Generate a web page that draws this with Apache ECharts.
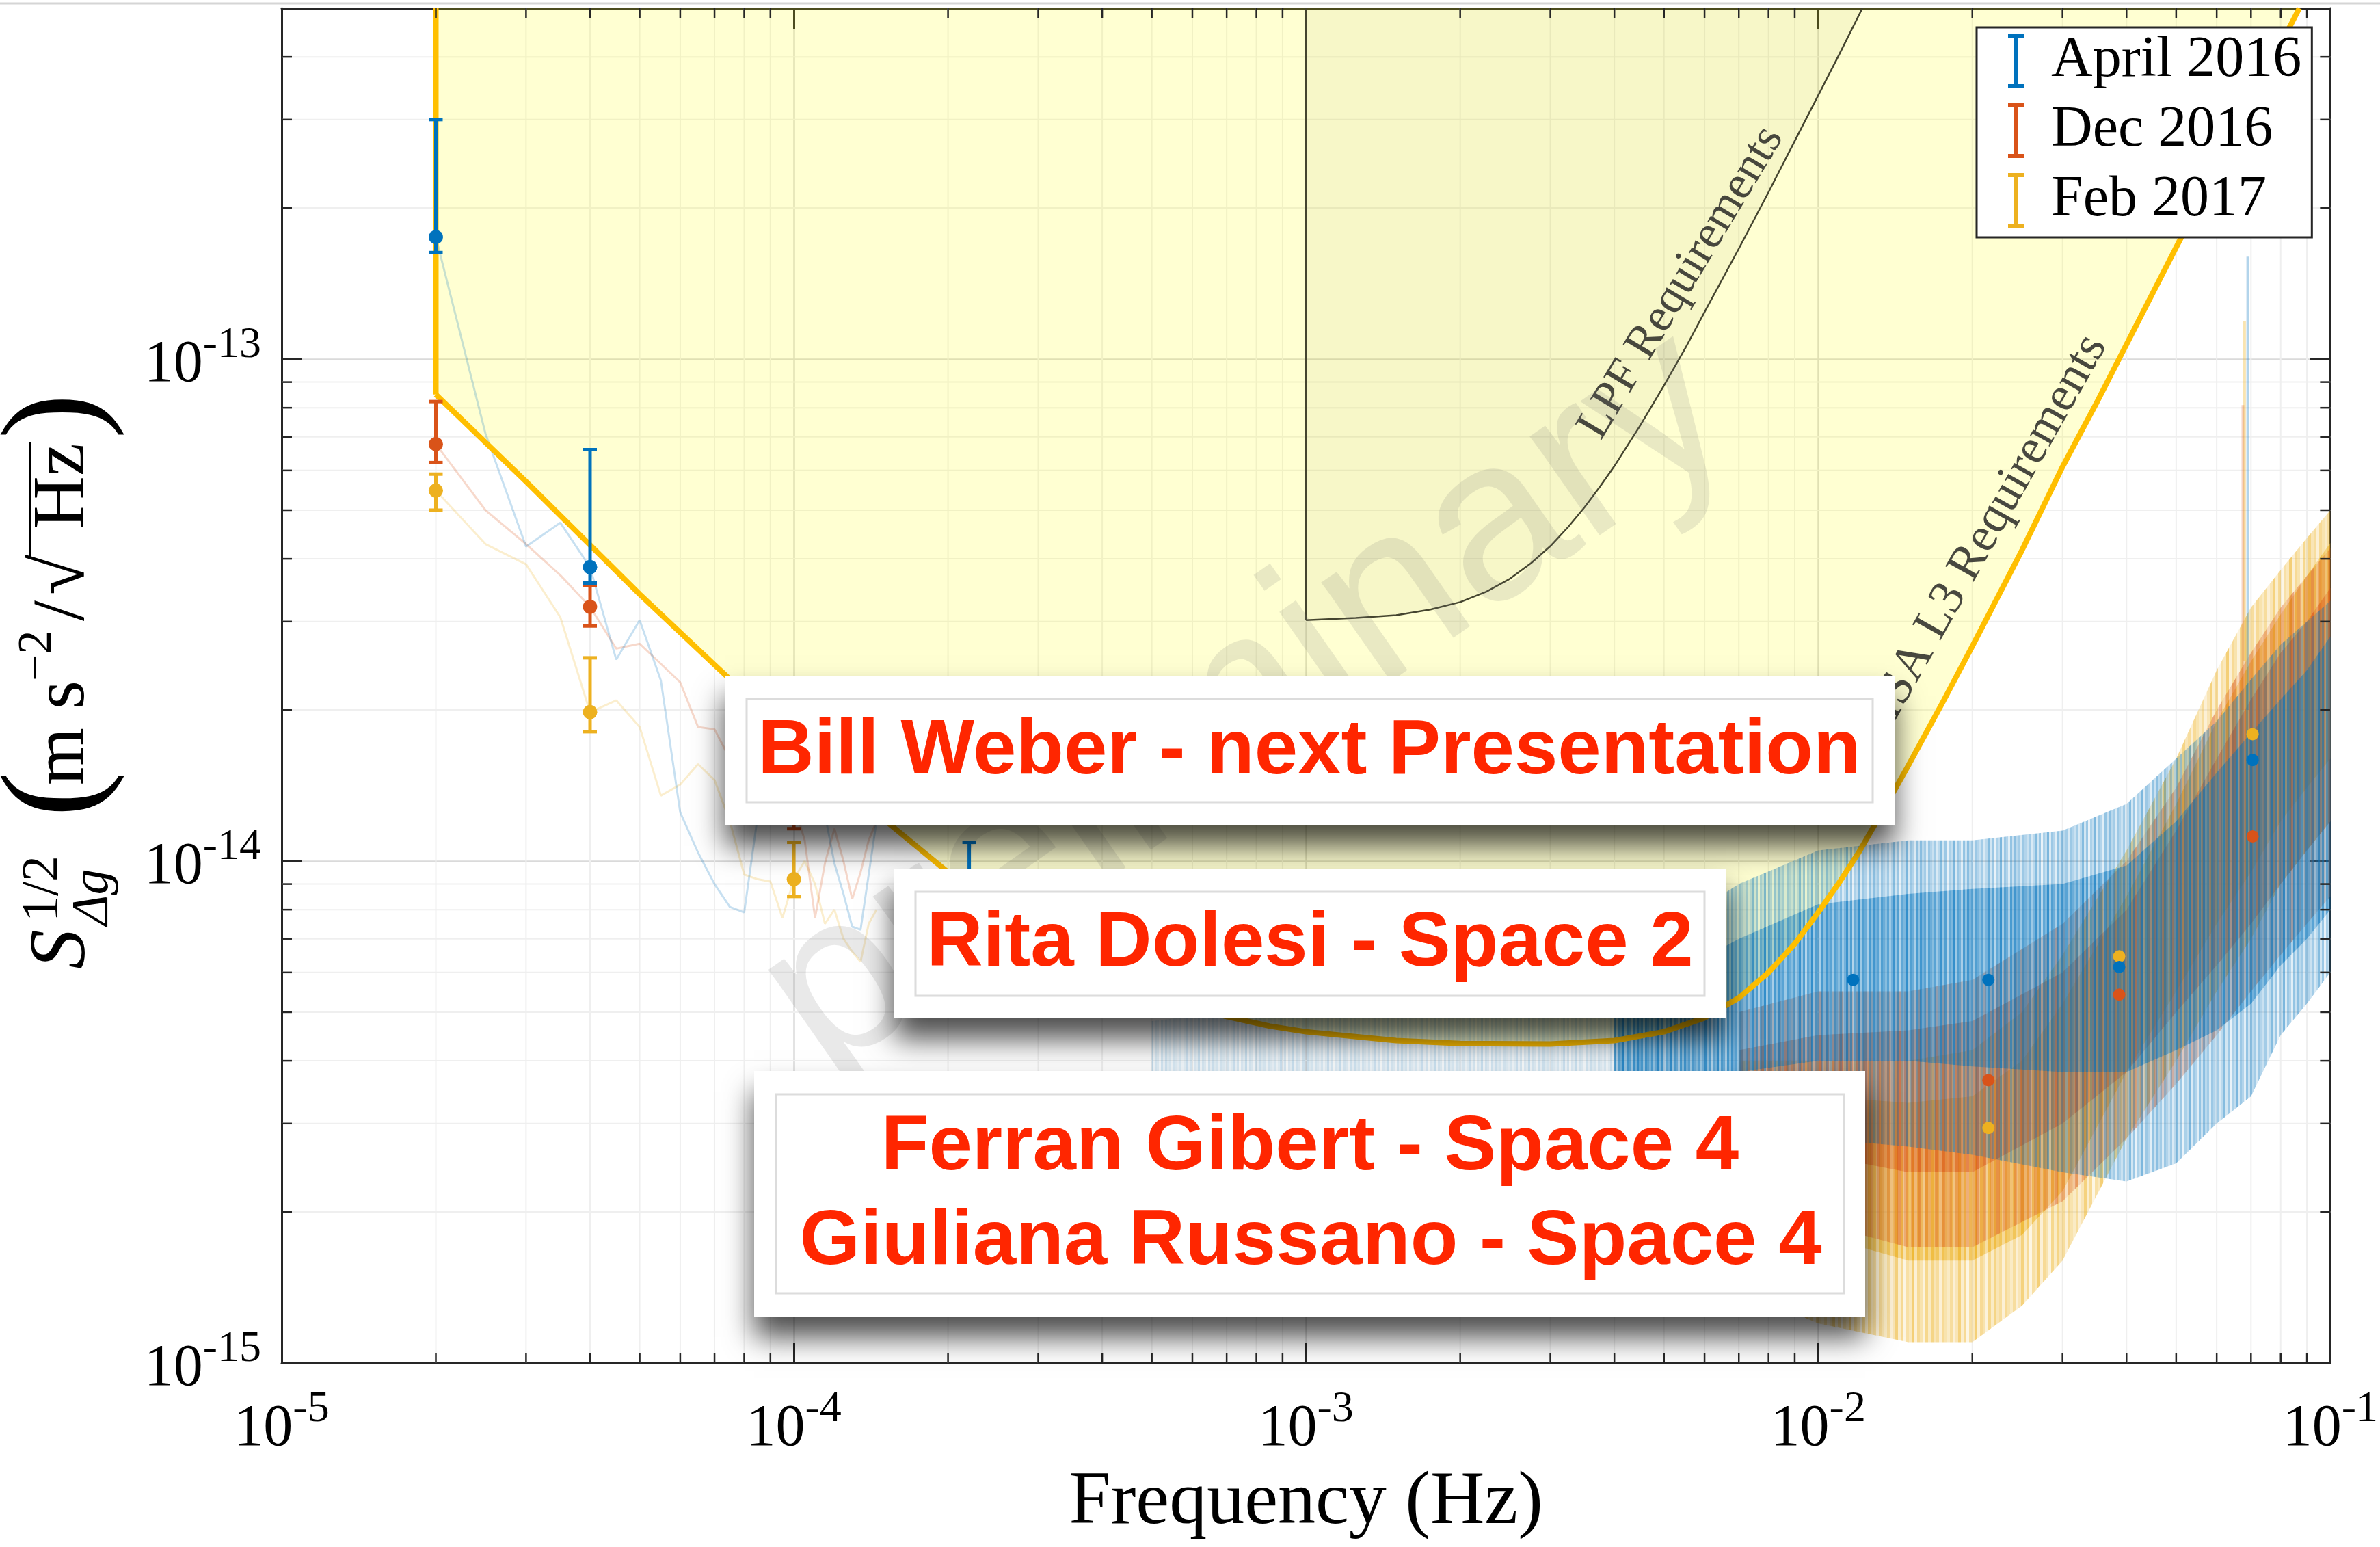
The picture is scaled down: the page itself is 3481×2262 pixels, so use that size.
<!DOCTYPE html>
<html><head><meta charset="utf-8">
<script src="https://cdn.jsdelivr.net/npm/echarts@6/dist/echarts.min.js"></script>
<style>html,body{margin:0;padding:0;background:#fff;}#c{width:3481px;height:2262px;}</style>
</head><body><div id="c"></div>
<script>
// ---------------- data ----------------
// LISA L3 requirement (gold curve, yellow region above it)
const lisaWallFreq = [2e-5, 2e-5];
const lisaWallASD  = [5e-13, 8.5e-14];
const lisaFreq = [2e-5, 3e-5, 5e-5, 7e-5, 1e-4, 1.5e-4, 2e-4, 2.5e-4, 3e-4, 3.5e-4, 4e-4, 5e-4, 6e-4, 7e-4, 8.5e-4, 1e-3, 1.5e-3, 2e-3, 3e-3, 4e-3, 5e-3, 6e-3, 7e-3, 8e-3, 9e-3, 1e-2, 1.1e-2, 1.2e-2, 1.35e-2, 1.5e-2, 1.75e-2, 2e-2, 2.5e-2, 3e-2, 3.5e-2, 4e-2, 5e-2, 6e-2, 7e-2, 8e-2, 8.7e-2];
const lisaASD  = [8.5e-14, 5.7e-14, 3.4e-14, 2.46e-14, 1.75e-14, 1.21e-14, 9.5e-15, 8.0e-15, 7.1e-15, 6.44e-15, 6.0e-15, 5.4e-15, 5.1e-15, 4.9e-15, 4.69e-15, 4.57e-15, 4.39e-15, 4.33e-15, 4.32e-15, 4.39e-15, 4.57e-15, 4.87e-15, 5.34e-15, 6.0e-15, 6.84e-15, 7.9e-15, 9.07e-15, 1.04e-14, 1.28e-14, 1.55e-14, 2.07e-14, 2.68e-14, 4.16e-14, 6.1e-14, 8.2e-14, 1.07e-13, 1.67e-13, 2.39e-13, 3.25e-13, 4.24e-13, 5.0e-13];
// LPF requirement (thin dark curve)
const lpfWallFreq = [1e-3, 1e-3];
const lpfWallASD  = [5e-13, 3.02e-14];
const lpfFreq = [1e-3, 1.25e-3, 1.5e-3, 1.75e-3, 2e-3, 2.25e-3, 2.5e-3, 2.75e-3, 3e-3, 3.25e-3, 3.5e-3, 3.75e-3, 4e-3, 4.5e-3, 5e-3, 5.5e-3, 6e-3, 7e-3, 8e-3, 9e-3, 1e-2, 1.1e-2, 1.22e-2];
const lpfASD  = [3.02e-14, 3.05e-14, 3.09e-14, 3.17e-14, 3.28e-14, 3.44e-14, 3.65e-14, 3.92e-14, 4.24e-14, 4.63e-14, 5.07e-14, 5.57e-14, 6.12e-14, 7.39e-14, 8.86e-14, 1.05e-13, 1.24e-13, 1.66e-13, 2.15e-13, 2.72e-13, 3.35e-13, 4.05e-13, 5.0e-13];

// Low-frequency spectra (faint lines)
const lowFreq  = [2e-5, 2.5e-5, 3e-5, 3.5e-5, 4e-5, 4.5e-5, 5e-5, 5.5e-5, 6e-5, 6.5e-5, 7e-5, 7.5e-5, 8e-5, 8.5e-5, 9e-5, 9.5e-5, 1e-4, 1.05e-4, 1.1e-4, 1.15e-4, 1.2e-4, 1.25e-4, 1.3e-4, 1.35e-4, 1.4e-4, 1.45e-4];
const lowApril = [1.75e-13, 7.1e-14, 4.23e-14, 4.72e-14, 3.85e-14, 2.52e-14, 3.02e-14, 2.29e-14, 1.25e-14, 1.04e-14, 9.0e-15, 8.1e-15, 7.9e-15, 1.23e-14, 1.4e-14, 1.3e-14, 1.5e-14, 1.4e-14, 1.3e-14, 1.24e-14, 9.9e-15, 8.6e-15, 7.4e-15, 7.3e-15, 9.4e-15, 1.2e-14];
const lowDec   = [6.77e-14, 5.0e-14, 4.28e-14, 3.71e-14, 3.21e-14, 2.65e-14, 2.71e-14, 2.47e-14, 2.27e-14, 1.85e-14, 1.83e-14, 1.6e-14, 1.5e-14, 1.4e-14, 1.45e-14, 1.35e-14, 1.3e-14, 1.1e-14, 7.7e-15, 9.9e-15, 1.16e-14, 1.0e-14, 8.4e-15, 9.5e-15, 1.1e-14, 1.2e-14];
const lowFeb   = [5.47e-14, 4.28e-14, 3.9e-14, 3.06e-14, 1.98e-14, 2.09e-14, 1.85e-14, 1.35e-14, 1.42e-14, 1.56e-14, 1.45e-14, 1.2e-14, 9.4e-15, 9.2e-15, 9.1e-15, 7.7e-15, 9.2e-15, 1.0e-14, 9.0e-15, 7.5e-15, 8.0e-15, 7.0e-15, 6.6e-15, 6.3e-15, 7.5e-15, 8.0e-15];

// Binned estimates with error bars
const aprErrFreq = [2e-5, 4e-5, 2.2e-4];
const aprErrVal  = [1.75e-13, 3.85e-14, 9.0e-15];
const aprErrLo   = [1.63e-13, 3.58e-14, 7.8e-15];
const aprErrHi   = [3.0e-13, 6.6e-14, 1.09e-14];
const decErrFreq = [2e-5, 4e-5, 1e-4];
const decErrVal  = [6.77e-14, 3.21e-14, 1.3e-14];
const decErrLo   = [6.22e-14, 2.94e-14, 1.16e-14];
const decErrHi   = [8.23e-14, 3.54e-14, 1.45e-14];
const febErrFreq = [2e-5, 4e-5, 1e-4];
const febErrVal  = [5.47e-14, 1.98e-14, 9.2e-15];
const febErrLo   = [5.0e-14, 1.81e-14, 8.5e-15];
const febErrHi   = [5.9e-14, 2.54e-14, 1.09e-14];
// High-frequency binned points
const aprHiFreq = [0.0117, 0.0215, 0.0387, 0.0705];
const aprHiVal  = [5.8e-15, 5.8e-15, 6.15e-15, 1.59e-14];
const decHiFreq = [0.0215, 0.0387, 0.0705];
const decHiVal  = [3.66e-15, 5.42e-15, 1.12e-14];
const febHiFreq = [0.0215, 0.0387, 0.0705];
const febHiVal  = [2.94e-15, 6.46e-15, 1.79e-14];

// Noisy spectra: envelopes (spike range and dense range)
const aprFaintFreq = [5e-4, 1e-3, 2e-3, 3e-3, 4e-3, 5e-3];
const aprFaintHi   = [4.8e-15, 5.2e-15, 5.5e-15, 5.9e-15, 6.3e-15, 6.8e-15];
const aprFaintLo   = [3.2e-15, 3.1e-15, 3.0e-15, 2.9e-15, 2.8e-15, 2.8e-15];
const aprBandFreq = [4e-3, 5e-3, 7e-3, 1e-2, 1.5e-2, 2e-2, 3e-2, 4e-2, 5e-2, 6e-2, 7e-2, 8e-2, 9e-2, 1e-1];
const aprSpikeHi  = [6.3e-15, 7.2e-15, 9.0e-15, 1.05e-14, 1.1e-14, 1.1e-14, 1.15e-14, 1.3e-14, 1.6e-14, 1.9e-14, 2.3e-14, 2.7e-14, 3.0e-14, 3.3e-14];
const aprDenseHi  = [5.2e-15, 5.8e-15, 7.0e-15, 8.2e-15, 8.6e-15, 8.8e-15, 9.0e-15, 9.8e-15, 1.2e-14, 1.5e-14, 1.8e-14, 2.1e-14, 2.4e-14, 2.8e-14];
const aprDenseLo  = [3.5e-15, 3.6e-15, 3.8e-15, 4.0e-15, 4.0e-15, 3.9e-15, 3.8e-15, 3.8e-15, 4.2e-15, 4.6e-15, 5.2e-15, 6.2e-15, 7.0e-15, 8.0e-15];
const aprSpikeLo  = [2.7e-15, 2.7e-15, 2.8e-15, 2.8e-15, 2.7e-15, 2.6e-15, 2.4e-15, 2.3e-15, 2.5e-15, 3.0e-15, 3.4e-15, 4.5e-15, 5.2e-15, 6.0e-15];
const decBandFreq = [7e-3, 1e-2, 1.5e-2, 2e-2, 3e-2, 4e-2, 5e-2, 6e-2, 7e-2, 8e-2, 9e-2, 1e-1];
const decSpikeHi  = [5.0e-15, 5.5e-15, 5.5e-15, 5.8e-15, 7.5e-15, 1.0e-14, 1.4e-14, 2.0e-14, 2.6e-14, 3.2e-14, 3.7e-14, 4.2e-14];
const decDenseHi  = [4.2e-15, 4.5e-15, 4.6e-15, 4.8e-15, 6.0e-15, 8.0e-15, 1.15e-14, 1.6e-14, 2.1e-14, 2.6e-14, 3.0e-14, 3.5e-14];
const decDenseLo  = [2.8e-15, 2.6e-15, 2.4e-15, 2.4e-15, 3.0e-15, 3.8e-15, 5.0e-15, 6.2e-15, 7.5e-15, 9.0e-15, 1.05e-14, 1.2e-14];
const decSpikeLo  = [2.0e-15, 1.9e-15, 1.7e-15, 1.7e-15, 2.1e-15, 2.8e-15, 3.6e-15, 4.5e-15, 5.5e-15, 6.5e-15, 7.5e-15, 8.5e-15];
const febBandFreq = [7e-3, 1e-2, 1.5e-2, 2e-2, 2.5e-2, 3e-2, 4e-2, 5e-2, 6e-2, 7e-2, 8e-2, 9e-2, 1e-1];
const febSpikeHi  = [4.0e-15, 4.0e-15, 4.0e-15, 4.2e-15, 5.0e-15, 6.5e-15, 1.05e-14, 1.6e-14, 2.4e-14, 3.2e-14, 3.8e-14, 4.4e-14, 5.0e-14];
const febDenseHi  = [3.4e-15, 3.4e-15, 3.3e-15, 3.4e-15, 4.0e-15, 5.2e-15, 8.5e-15, 1.3e-14, 1.9e-14, 2.5e-14, 3.1e-14, 3.7e-14, 4.3e-14];
const febDenseLo  = [2.0e-15, 1.8e-15, 1.6e-15, 1.6e-15, 1.8e-15, 2.2e-15, 3.8e-15, 5.5e-15, 7.5e-15, 9.5e-15, 1.2e-14, 1.4e-14, 1.6e-14];
const febSpikeLo  = [1.4e-15, 1.2e-15, 1.1e-15, 1.1e-15, 1.3e-15, 1.6e-15, 2.8e-15, 4.0e-15, 5.5e-15, 7.0e-15, 9.0e-15, 1.05e-14, 1.2e-14];
// isolated tall spikes near 0.07 Hz
const aprSpikeFreq = [0.069];  const aprSpikeTop = [1.6e-13];  const aprSpikeBase = [2.0e-14];
const decSpikeFreq = [0.0675]; const decSpikeTop = [8.1e-14];  const decSpikeBase = [2.0e-14];
const febSpikeFreq = [0.068];  const febSpikeTop = [1.19e-13]; const febSpikeBase = [2.5e-14];

// Legend / series names, annotation texts
const seriesNames = ['April 2016', 'Dec 2016', 'Feb 2017'];
const noteLPF = 'LPF Requirements';
const noteLISA = 'LISA L3 Requirements';
const noteWatermark = 'preliminary';
const boxTexts = ['Bill Weber - next Presentation', 'Rita Dolesi - Space 2', 'Ferran Gibert - Space 4', 'Giuliana Russano - Space 4'];

// ---------------- chart ----------------
const SERIF = '"Liberation Serif", "Times New Roman", serif';
const SANS = '"Liberation Sans", Arial, sans-serif';
const C_BLUE = '#0072BD', C_ORANGE = '#D95319', C_YELLOW = '#EDB120';
const pairs = (xs, ys) => xs.map((x, i) => [x, ys[i]]);

// texture used to give the noisy spectra their vertical-streak look (style only)
const STRIPE_ALPHAS = [0.55, 0.2, 0.4, 0.75, 0.25, 0.6, 0.1, 0.5, 0.35, 0.8, 0.2, 0.6, 0.45, 0.15, 0.65, 0.3, 0.7, 0.4, 0.55, 0.2, 0.6, 0.45, 0.3];
function stripes(rgb, scale, add, colW) {
  const cv = document.createElement('canvas');
  cv.width = STRIPE_ALPHAS.length * colW; cv.height = 8;
  const ctx = cv.getContext('2d');
  STRIPE_ALPHAS.forEach((a, i) => {
    ctx.fillStyle = 'rgba(' + rgb + ',' + Math.min(1, a * scale + add).toFixed(3) + ')';
    ctx.fillRect(i * colW, 0, colW, 8);
  });
  return { image: cv, repeat: 'repeat' };
}

const xMinorTicks = [], yMinorTicks = [];
for (let k = -5; k <= -2; k++) for (let m = 2; m <= 9; m++) xMinorTicks.push(m * Math.pow(10, k));
for (let k = -15; k <= -13; k++) for (let m = 2; m <= 9; m++) { const v = m * Math.pow(10, k); if (v < 5e-13) yMinorTicks.push(v); }

function minorSeries(isTick) {
  return {
    type: 'custom', z: isTick ? 9 : 1, silent: true, clip: false, data: [[1e-3, 1e-14]],
    renderItem(params, api) {
      const cs = params.coordSys, ch = [];
      const st = isTick ? { stroke: '#262626', lineWidth: 2.5 } : { stroke: '#EFEFEF', lineWidth: 2 };
      const L = 15;
      xMinorTicks.forEach(v => {
        const x = api.coord([v, 1e-14])[0];
        if (isTick) {
          ch.push({ type: 'line', shape: { x1: x, y1: cs.y + cs.height, x2: x, y2: cs.y + cs.height - L }, style: st });
          ch.push({ type: 'line', shape: { x1: x, y1: cs.y, x2: x, y2: cs.y + L }, style: st });
        } else ch.push({ type: 'line', shape: { x1: x, y1: cs.y, x2: x, y2: cs.y + cs.height }, style: st });
      });
      yMinorTicks.forEach(v => {
        const y = api.coord([1e-3, v])[1];
        if (isTick) {
          ch.push({ type: 'line', shape: { x1: cs.x, y1: y, x2: cs.x + L, y2: y }, style: st });
          ch.push({ type: 'line', shape: { x1: cs.x + cs.width, y1: y, x2: cs.x + cs.width - L, y2: y }, style: st });
        } else ch.push({ type: 'line', shape: { x1: cs.x, y1: y, x2: cs.x + cs.width, y2: y }, style: st });
      });
      return { type: 'group', children: ch };
    }
  };
}

function bandSeries(freq, lo, hi, fill, z) {
  return {
    type: 'custom', z, silent: true, clip: true, data: [[freq[0], lo[0]]],
    renderItem(params, api) {
      const pts = [];
      for (let i = 0; i < freq.length; i++) pts.push(api.coord([freq[i], hi[i]]));
      for (let i = freq.length - 1; i >= 0; i--) pts.push(api.coord([freq[i], lo[i]]));
      return { type: 'polygon', shape: { points: pts }, style: { fill } };
    }
  };
}

function spikeSeries(freq, base, top, color) {
  return {
    type: 'custom', z: 3, silent: true, clip: true,
    data: freq.map((f, i) => [f, base[i], top[i]]), encode: { x: 0, y: [1, 2] },
    renderItem(params, api) {
      const a = api.coord([api.value(0), api.value(1)]), b = api.coord([api.value(0), api.value(2)]);
      return { type: 'line', shape: { x1: a[0], y1: a[1], x2: b[0], y2: b[1] }, style: { stroke: color, lineWidth: 4 } };
    }
  };
}

function errSeries(freq, lo, hi, color) {
  return {
    type: 'custom', z: 6, silent: true, clip: true,
    data: freq.map((f, i) => [f, lo[i], hi[i]]), encode: { x: 0, y: [1, 2] },
    renderItem(params, api) {
      const f = api.value(0);
      const a = api.coord([f, api.value(1)]), b = api.coord([f, api.value(2)]);
      const w = 10, st = { stroke: color, lineWidth: 5 };
      return { type: 'group', children: [
        { type: 'line', shape: { x1: a[0], y1: a[1], x2: b[0], y2: b[1] }, style: st },
        { type: 'line', shape: { x1: a[0] - w, y1: a[1], x2: a[0] + w, y2: a[1] }, style: st },
        { type: 'line', shape: { x1: b[0] - w, y1: b[1], x2: b[0] + w, y2: b[1] }, style: st }
      ] };
    }
  };
}

function dotSeries(name, freqA, valA, freqB, valB, color) {
  return {
    name, type: 'scatter', z: 7, silent: true,
    data: pairs(freqA, valA).map(p => ({ value: p, symbolSize: 21 })).concat(pairs(freqB, valB).map(p => ({ value: p, symbolSize: 18 }))),
    itemStyle: { color, opacity: 1 }
  };
}

function faintLine(ys, color) {
  return { type: 'line', z: 3, silent: true, symbol: 'none', data: pairs(lowFreq, ys),
    lineStyle: { color, width: 3, opacity: 0.22 } };
}

function noteSeries(text, f, v, rot, font, size, color) {
  return { type: 'scatter', z: 5, silent: true, symbolSize: 0, data: [[f, v]],
    label: { show: true, position: 'inside', formatter: text, rotate: rot, fontFamily: font, fontSize: size, color } };
}

const expLabel = (v) => {
  const l = Math.log10(v), e = Math.round(l);
  if (Math.abs(l - e) > 1e-6) return '';
  return '{b|10}{s|' + e + '}';
};
const labelRich = {
  b: { fontFamily: SERIF, fontSize: 86, color: '#000', verticalAlign: 'bottom', lineHeight: 104 },
  s: { fontFamily: SERIF, fontSize: 64, color: '#000', verticalAlign: 'top', lineHeight: 104 }
};
const axisLineStyle = { color: '#262626', width: 3 };
const ICON = 'path://M0,0H12V3H7.5V37H12V40H0V37H4.5V3H0Z';

const option = {
  animation: false,
  backgroundColor: '#ffffff',
  grid: { left: 412, right: 69, top: 12, bottom: 269, containLabel: false },
  xAxis: [
    { type: 'log', logBase: 10, min: 1e-5, max: 1e-1, position: 'bottom',
      axisLine: { show: true, lineStyle: axisLineStyle },
      axisTick: { show: true, inside: true, length: 30, lineStyle: { color: '#262626', width: 3 } },
      splitLine: { show: true, lineStyle: { color: '#DADADA', width: 2.5 } },
      axisLabel: { formatter: expLabel, rich: labelRich, margin: 36 },
      name: 'Frequency (Hz)', nameLocation: 'middle', nameGap: 150,
      nameTextStyle: { fontFamily: SERIF, fontSize: 110, color: '#000' } },
    { type: 'log', logBase: 10, min: 1e-5, max: 1e-1, position: 'top',
      axisLine: { show: true, lineStyle: axisLineStyle },
      axisTick: { show: true, inside: true, length: 30, lineStyle: { color: '#262626', width: 3 } },
      splitLine: { show: false }, axisLabel: { show: false } }
  ],
  yAxis: [
    { type: 'log', logBase: 10, min: 1e-15, max: 5e-13, position: 'left',
      axisLine: { show: true, lineStyle: axisLineStyle },
      axisTick: { show: true, inside: true, length: 30, lineStyle: { color: '#262626', width: 3 } },
      splitLine: { show: true, lineStyle: { color: '#DADADA', width: 2.5 } },
      axisLabel: { formatter: expLabel, rich: labelRich, margin: 30, showMaxLabel: false } },
    { type: 'log', logBase: 10, min: 1e-15, max: 5e-13, position: 'right',
      axisLine: { show: true, lineStyle: axisLineStyle },
      axisTick: { show: true, inside: true, length: 30, lineStyle: { color: '#262626', width: 3 } },
      splitLine: { show: false }, axisLabel: { show: false } }
  ],
  legend: {
    data: seriesNames.map(n => ({ name: n, icon: ICON })),
    orient: 'vertical', left: 2891, top: 40, padding: [7, 15, 12, 46],
    itemWidth: 24, itemHeight: 82, itemGap: 18,
    formatter: (n) => '{g|}' + n,
    backgroundColor: '#ffffff', borderColor: '#262626', borderWidth: 3,
    textStyle: { fontFamily: SERIF, fontSize: 84, color: '#000', lineHeight: 82,
      rich: { g: { width: 34, height: 10 } } },
    selectedMode: false, z: 20
  },
  series: [
    minorSeries(false),
    { type: 'line', z: 2, silent: true, symbol: 'none', data: pairs(lisaFreq, lisaASD), lineStyle: { width: 0 },
      areaStyle: { origin: 'end', color: 'rgba(255,255,0,0.25)' } },
    { type: 'line', z: 2, silent: true, symbol: 'none', data: pairs(lpfFreq, lpfASD), lineStyle: { width: 0 },
      areaStyle: { origin: 'end', color: 'rgba(80,80,0,0.06)' } },
    faintLine(lowFeb, C_YELLOW), faintLine(lowDec, C_ORANGE), faintLine(lowApril, C_BLUE),
    bandSeries(febBandFreq, febSpikeLo, febSpikeHi, stripes('237,177,32', 0.7, 0.05, 4), 3),
    bandSeries(febBandFreq, febDenseLo, febDenseHi, stripes('237,177,32', 0.6, 0.22, 4), 3),
    bandSeries(decBandFreq, decSpikeLo, decSpikeHi, stripes('217,83,25', 0.55, 0.05, 5), 3),
    bandSeries(decBandFreq, decDenseLo, decDenseHi, stripes('217,83,25', 0.5, 0.18, 5), 3),
    bandSeries(aprFaintFreq, aprFaintLo, aprFaintHi, stripes('0,114,189', 0.25, 0.0, 3), 3),
    bandSeries(aprBandFreq, aprSpikeLo, aprSpikeHi, stripes('0,114,189', 0.6, 0.03, 3), 3),
    bandSeries(aprBandFreq, aprDenseLo, aprDenseHi, stripes('0,114,189', 0.5, 0.18, 3), 3),
    spikeSeries(febSpikeFreq, febSpikeBase, febSpikeTop, 'rgba(237,177,32,0.35)'),
    spikeSeries(decSpikeFreq, decSpikeBase, decSpikeTop, 'rgba(217,83,25,0.25)'),
    spikeSeries(aprSpikeFreq, aprSpikeBase, aprSpikeTop, 'rgba(0,114,189,0.3)'),
    { type: 'line', z: 4, silent: true, symbol: 'none', data: pairs(lisaFreq, lisaASD),
      lineStyle: { color: '#FFBF00', width: 8, join: 'round' } },
    { type: 'line', z: 4, silent: true, symbol: 'none', data: pairs(lisaWallFreq, lisaWallASD),
      lineStyle: { color: '#FFBF00', width: 8 } },
    { type: 'line', z: 4, silent: true, symbol: 'none', data: pairs(lpfFreq, lpfASD),
      lineStyle: { color: '#45452f', width: 2.5, join: 'round' } },
    { type: 'line', z: 4, silent: true, symbol: 'none', data: pairs(lpfWallFreq, lpfWallASD),
      lineStyle: { color: '#45452f', width: 2.5 } },
    noteSeries(noteLPF, 5.41e-3, 1.42e-13, 59, SERIF, 69, '#1a1a1a'),
    noteSeries(noteLISA, 0.0209, 4.36e-14, 60.6, SERIF, 72, '#1a1a1a'),
    noteSeries(noteWatermark, 7.7e-4, 2.05e-14, 35, SANS, 335, 'rgba(120,120,120,0.2)'),
    errSeries(febErrFreq, febErrLo, febErrHi, C_YELLOW),
    errSeries(decErrFreq, decErrLo, decErrHi, C_ORANGE),
    errSeries(aprErrFreq, aprErrLo, aprErrHi, C_BLUE),
    dotSeries('Feb 2017', febErrFreq, febErrVal, febHiFreq, febHiVal, C_YELLOW),
    dotSeries('Dec 2016', decErrFreq, decErrVal, decHiFreq, decHiVal, C_ORANGE),
    dotSeries('April 2016', aprErrFreq, aprErrVal, aprHiFreq, aprHiVal, C_BLUE),
    minorSeries(true)
  ],
  graphic: []
};

const yTitle = {
  type: 'group', x: 100, y: 1020, rotation: Math.PI / 2, z: 50,
  children: [
    { type: 'text', x: -397, y: -8, style: { text: 'S', font: 'italic 116px ' + SERIF, fill: '#000', verticalAlign: 'middle' } },
    { type: 'text', x: -328, y: -36, style: { text: '1/2', font: '76px ' + SERIF, fill: '#000', verticalAlign: 'middle' } },
    { type: 'text', x: -333, y: 37, style: { text: 'Δg', font: 'italic 76px ' + SERIF, fill: '#000', verticalAlign: 'middle' } },
    { type: 'text', x: -175, y: -14, style: { text: '(', font: '200px ' + SERIF, fill: '#000', verticalAlign: 'middle' } },
    { type: 'text', x: -128, y: -6, style: { text: 'm s', font: '108px ' + SERIF, fill: '#000', verticalAlign: 'middle' } },
    { type: 'text', x: 24, y: -44, style: { text: '−2', font: '70px ' + SERIF, fill: '#000', verticalAlign: 'middle' } },
    { type: 'text', x: 112, y: -6, style: { text: '/', font: '108px ' + SERIF, fill: '#000', verticalAlign: 'middle' } },
    { type: 'text', x: 150, y: -6, style: { text: '√', font: '108px ' + SERIF, fill: '#000', verticalAlign: 'middle' } },
    { type: 'line', shape: { x1: 205, y1: -56, x2: 374, y2: -56 }, style: { stroke: '#000', lineWidth: 4 } },
    { type: 'text', x: 246, y: -6, style: { text: 'Hz', font: '108px ' + SERIF, fill: '#000', verticalAlign: 'middle' } },
    { type: 'text', x: 378, y: -14, style: { text: ')', font: '200px ' + SERIF, fill: '#000', verticalAlign: 'middle' } }
  ]
};

function noteBox(outer, inner, lines) {
  const els = [];
  els.push({ type: 'rect', z: 100, shape: { x: outer[0], y: outer[1], width: outer[2] - outer[0], height: outer[3] - outer[1] },
    style: { fill: '#ffffff', shadowBlur: 40, shadowOffsetY: 30, shadowColor: 'rgba(0,0,0,0.7)' } });
  els.push({ type: 'rect', z: 101, shape: { x: inner[0], y: inner[1], width: inner[2] - inner[0], height: inner[3] - inner[1] },
    style: { fill: 'none', stroke: '#DCDCDC', lineWidth: 3 } });
  lines.forEach(l => els.push({ type: 'text', z: 102, x: l[1], y: l[2],
    style: { text: l[0], font: 'bold 114px ' + SANS, fill: '#FF2600', align: 'center', verticalAlign: 'middle' } }));
  return els;
}

option.graphic = [
  { type: 'line', z: 100, shape: { x1: 0, y1: 5, x2: 3481, y2: 5 }, style: { stroke: '#D5D5D5', lineWidth: 3 } },
  yTitle,
  ...noteBox([1060, 988, 2771, 1207], [1092, 1022, 2739, 1173], [[boxTexts[0], 1915, 1100]]),
  ...noteBox([1308, 1270, 2524, 1489], [1339, 1304, 2493, 1456], [[boxTexts[1], 1916, 1381]]),
  ...noteBox([1103, 1566, 2728, 1925], [1135, 1600, 2697, 1891], [[boxTexts[2], 1916, 1679], [boxTexts[3], 1917, 1817]])
];

const chart = echarts.init(document.getElementById('c'), null, { renderer: 'canvas', width: 3481, height: 2262 });
chart.setOption(option);
</script>
</body></html>
